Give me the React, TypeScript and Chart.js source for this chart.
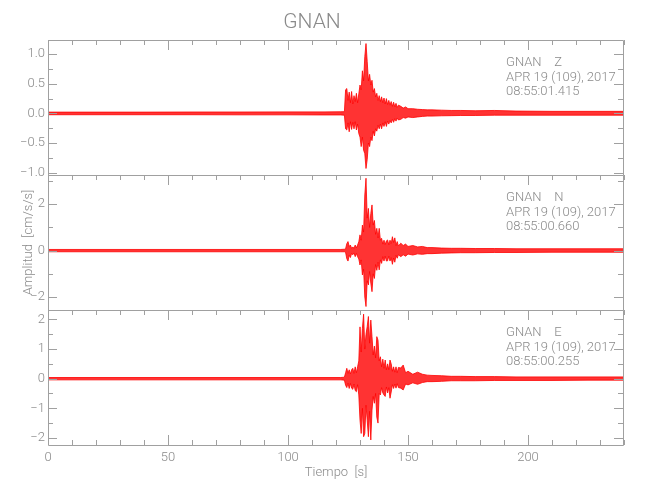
import React, { useEffect, useRef } from "react";
import { Chart, registerables } from "chart.js";

Chart.register(...registerables);

// ---- data (seconds, cm/s/s): envelope (max / min) of each trace ----
const time = [0, 20, 40, 60, 80, 100, 115, 122, 123.5,
  124, 124.5, 125, 125.5, 126, 126.5, 127, 127.5, 128, 128.5, 129, 129.5,
  130, 130.5, 131, 131.5, 132, 132.5, 133, 133.5, 134, 134.5, 135, 135.5,
  136, 136.5, 137, 137.5, 138, 138.5, 139, 139.5, 140, 140.5, 141, 141.5,
  142, 142.5, 143, 143.5, 144, 144.5, 145, 145.5, 146,
  147, 148, 149, 150, 152, 154, 156, 158, 160, 164, 168, 172, 178, 186, 195, 210, 225, 240];

const zHi = [0.022, 0.022, 0.022, 0.024, 0.024, 0.026, 0.026, 0.028, 0.03,
  0.40, 0.42, 0.22, 0.36, 0.18, 0.37, 0.16, 0.30, 0.20, 0.34, 0.18, 0.33,
  0.48, 0.40, 0.72, 0.55, 0.96, 1.18, 0.88, 0.55, 0.66, 0.48, 0.56, 0.36,
  0.42, 0.28, 0.34, 0.22, 0.30, 0.20, 0.28, 0.18, 0.26, 0.16, 0.25, 0.15,
  0.22, 0.14, 0.20, 0.12, 0.19, 0.11, 0.17, 0.10, 0.14,
  0.12, 0.09, 0.11, 0.08, 0.08, 0.07, 0.065, 0.06, 0.06, 0.055, 0.05, 0.05, 0.045, 0.05, 0.04, 0.035, 0.035, 0.035];
const zLo = [-0.022, -0.022, -0.022, -0.022, -0.024, -0.024, -0.026, -0.026, -0.03,
  -0.26, -0.28, -0.16, -0.31, -0.14, -0.27, -0.15, -0.26, -0.14, -0.28, -0.18, -0.34,
  -0.40, -0.56, -0.40, -0.62, -0.68, -0.93, -0.78, -0.50, -0.56, -0.40, -0.46, -0.30,
  -0.38, -0.26, -0.30, -0.20, -0.26, -0.18, -0.26, -0.16, -0.22, -0.14, -0.22, -0.13,
  -0.18, -0.12, -0.16, -0.10, -0.15, -0.09, -0.13, -0.08, -0.11,
  -0.10, -0.07, -0.08, -0.06, -0.07, -0.06, -0.05, -0.045, -0.045, -0.04, -0.038, -0.035, -0.035, -0.03, -0.03, -0.03, -0.03, -0.03];

const nHi = [0.05, 0.05, 0.05, 0.05, 0.05, 0.05, 0.05, 0.05, 0.06,
  0.08, 0.30, 0.39, 0.18, 0.24, 0.10, 0.16, 0.10, 0.24, 0.12, 0.24, 0.38,
  0.68, 0.45, 1.10, 0.80, 2.40, 3.12, 1.40, 1.82, 1.00, 1.60, 1.97, 1.10,
  1.30, 0.70, 0.96, 0.55, 0.96, 0.45, 0.53, 0.28, 0.45, 0.26, 0.42, 0.46,
  0.25, 0.45, 0.30, 0.60, 0.35, 0.55, 0.22, 0.39, 0.20,
  0.32, 0.22, 0.28, 0.18, 0.22, 0.16, 0.18, 0.13, 0.13, 0.11, 0.10, 0.10, 0.09, 0.09, 0.08, 0.08, 0.08, 0.08];
const nLo = [-0.05, -0.05, -0.05, -0.05, -0.05, -0.05, -0.05, -0.05, -0.05,
  -0.08, -0.35, -0.45, -0.20, -0.30, -0.12, -0.18, -0.10, -0.26, -0.12, -0.26, -0.36,
  -0.62, -0.40, -1.05, -0.80, -2.00, -2.41, -1.30, -1.48, -0.90, -1.40, -1.77, -1.00,
  -1.20, -0.60, -0.85, -0.50, -0.83, -0.40, -0.55, -0.26, -0.45, -0.24, -0.45, -0.44,
  -0.24, -0.45, -0.30, -0.59, -0.32, -0.50, -0.20, -0.33, -0.18,
  -0.26, -0.18, -0.24, -0.15, -0.19, -0.14, -0.16, -0.13, -0.13, -0.11, -0.10, -0.09, -0.09, -0.08, -0.08, -0.07, -0.07, -0.07];

const eHi = [0.04, 0.04, 0.04, 0.04, 0.04, 0.04, 0.04, 0.04, 0.05,
  0.20, 0.35, 0.18, 0.30, 0.16, 0.30, 0.35, 0.18, 0.40, 0.20, 0.40, 0.60,
  1.75, 0.90, 1.70, 2.18, 1.00, 1.50, 1.76, 2.10, 1.20, 1.98, 1.42, 0.80,
  1.10, 0.70, 1.42, 1.30, 0.60, 0.74, 0.40, 0.66, 0.35, 0.63, 0.30, 0.50,
  0.30, 0.63, 0.50, 0.25, 0.40, 0.22, 0.40, 0.20, 0.38,
  0.36, 0.46, 0.20, 0.25, 0.15, 0.22, 0.15, 0.12, 0.11, 0.10, 0.08, 0.08, 0.07, 0.07, 0.06, 0.06, 0.06, 0.06];
const eLo = [-0.04, -0.04, -0.04, -0.04, -0.04, -0.04, -0.04, -0.04, -0.05,
  -0.22, -0.30, -0.15, -0.33, -0.16, -0.32, -0.36, -0.18, -0.40, -0.44, -0.20, -0.55,
  -1.40, -1.85, -1.00, -1.96, -1.85, -0.90, -1.40, -1.96, -1.10, -2.07, -1.06, -0.60,
  -0.83, -0.50, -1.30, -1.50, -0.50, -0.55, -0.30, -0.48, -0.55, -0.60, -0.28, -0.48,
  -0.30, -0.66, -0.45, -0.20, -0.33, -0.18, -0.32, -0.17, -0.30,
  -0.32, -0.38, -0.18, -0.21, -0.14, -0.19, -0.13, -0.10, -0.10, -0.09, -0.07, -0.07, -0.07, -0.06, -0.06, -0.06, -0.05, -0.05];

// ---- axes / labels ----
const xTicks = [0, 50, 100, 150, 200];
const xRange = [0, 240];
const xMinorStep = 10;
const zTicks = [-1.0, -0.5, 0, 0.5, 1.0];
const nTicks = [-2, 0, 2];
const eTicks = [-2, -1, 0, 1, 2];
const zMinorStep = 0.25;
const nMinorStep = 1;
const eMinorStep = 0.5;
const zRange = [-1.04, 1.24];
const nRange = [-2.56, 3.26];
const eRange = [-2.24, 2.32];

const stationName = "GNAN";
const channels = ["Z", "N", "E"];
const dateLabel = "APR 19 (109), 2017";
const startTimes = ["08:55:01.415", "08:55:00.660", "08:55:00.255"];
const xTitle = "Tiempo  [s]";
const yTitle = "Amplitud  [cm/s/s]";

const AXIS = "#a0a0a0";
const TEXT = "#8a8a8a";
const FONT = "Roboto, 'DejaVu Sans', sans-serif";
const RED = "rgb(255,0,0)";
const RED_FILL = "rgba(255,0,0,0.8)";

const minus = (s: string) => s.replace("-", "\u2212");

export default function App() {
  const ref = useRef<HTMLCanvasElement>(null);

  useEffect(() => {
    const panels = [
      { id: "yZ", hi: zHi, lo: zLo, range: zRange, ticks: zTicks, minor: zMinorStep, fmt: (v: number) => minus(v.toFixed(1)) },
      { id: "yN", hi: nHi, lo: nLo, range: nRange, ticks: nTicks, minor: nMinorStep, fmt: (v: number) => minus(String(v)) },
      { id: "yE", hi: eHi, lo: eLo, range: eRange, ticks: eTicks, minor: eMinorStep, fmt: (v: number) => minus(String(v)) },
    ];

    const datasets: any[] = [];
    panels.forEach((p) => {
      datasets.push({
        data: time.map((t, i) => ({ x: t, y: p.hi[i] })),
        xAxisID: "x", yAxisID: p.id,
        borderColor: RED, borderWidth: 0.8, pointRadius: 0, fill: false, tension: 0,
      });
      datasets.push({
        data: time.map((t, i) => ({ x: t, y: p.lo[i] })),
        xAxisID: "x", yAxisID: p.id,
        borderColor: RED, borderWidth: 0.8, pointRadius: 0, fill: "-1", backgroundColor: RED_FILL, tension: 0,
      });
    });

    const tickFont = { family: FONT, size: 13, weight: "300" as any };

    const makeY = (p: any, withTitle: boolean) => ({
      type: "linear",
      position: "left",
      stack: "traces",
      stackWeight: 1,
      min: p.range[0],
      max: p.range[1],
      grid: { display: false, drawTicks: false },
      border: { display: false },
      afterBuildTicks: (s: any) => { s.ticks = p.ticks.map((v: number) => ({ value: v })); },
      afterFit: (s: any) => { s.width = 48; },
      ticks: { color: TEXT, font: tickFont, padding: 3, callback: (v: any) => p.fmt(Number(v)) },
      title: {
        display: withTitle, text: yTitle, color: TEXT,
        font: { family: FONT, size: 13, weight: "300" as any },
        padding: { top: 21, bottom: 0 },
      },
    });

    const framePlugin = {
      id: "frameTicks",
      afterDatasetsDraw(chart: any) {
        const ctx = chart.ctx;
        const xs = chart.scales.x;
        const L = xs.left, R = xs.right;
        ctx.save();
        ctx.strokeStyle = AXIS;
        ctx.lineWidth = 1;
        panels.forEach((p, k) => {
          const ys = chart.scales[p.id];
          const T = ys.top, B = ys.bottom;
          ctx.beginPath();
          ctx.rect(Math.round(L) + 0.5, Math.round(T) + 0.5, Math.round(R - L) - 1, Math.round(B - T));
          ctx.stroke();
          ctx.beginPath();
          const minStart = Math.ceil(p.range[0] / p.minor) * p.minor;
          for (let v = minStart; v <= p.range[1] + 1e-9; v += p.minor) {
            const isMajor = p.ticks.some((m: number) => Math.abs(m - v) < 1e-6);
            const len = isMajor ? 9 : 5;
            const y = Math.round(ys.getPixelForValue(v)) + 0.5;
            ctx.moveTo(Math.round(L), y); ctx.lineTo(Math.round(L) + len, y);
            ctx.moveTo(Math.round(R) - 1, y); ctx.lineTo(Math.round(R) - 1 - len, y);
          }
          for (let v = xRange[0]; v <= xRange[1] + 1e-9; v += xMinorStep) {
            const isMajor = xTicks.includes(v);
            const len = isMajor ? 10 : 5;
            const x = Math.round(xs.getPixelForValue(v)) + 0.5;
            ctx.moveTo(x, Math.round(T)); ctx.lineTo(x, Math.round(T) + len);
            if (k === panels.length - 1) {
              ctx.moveTo(x, Math.round(B)); ctx.lineTo(x, Math.round(B) - len);
            }
          }
          ctx.stroke();
        });
        ctx.fillStyle = TEXT;
        ctx.font = `300 13px ${FONT}`;
        ctx.textAlign = "left";
        ctx.textBaseline = "alphabetic";
        panels.forEach((p, k) => {
          const ys = chart.scales[p.id];
          const lines = [`${stationName}    ${channels[k]}`, dateLabel, startTimes[k]];
          lines.forEach((ln, j) => ctx.fillText(ln, L + 458, ys.top + 26 + j * 14.5));
        });
        ctx.restore();
      },
    };

    const chart = new Chart(ref.current as HTMLCanvasElement, {
      type: "line",
      data: { datasets },
      options: {
        animation: false,
        responsive: false,
        layout: { padding: { left: 0, right: 26, top: 0, bottom: 0 } },
        plugins: {
          legend: { display: false },
          tooltip: { enabled: false },
          title: {
            display: true, text: stationName, color: TEXT,
            font: { family: FONT, size: 21, weight: "300" as any },
            padding: { top: 10, bottom: 4.8 },
          },
        },
        scales: {
          x: {
            type: "linear",
            min: xRange[0], max: xRange[1],
            grid: { display: false, drawTicks: false },
            border: { display: false },
            afterBuildTicks: (s: any) => { s.ticks = xTicks.map((v) => ({ value: v })); },
            afterFit: (s: any) => { s.height = 55; },
            ticks: { color: TEXT, font: tickFont, padding: 5, maxRotation: 0, autoSkip: false },
            title: {
              display: true, text: xTitle, color: TEXT,
              font: { family: FONT, size: 13, weight: "300" as any },
              padding: { top: 0, bottom: 19 },
            },
          },
          yE: makeY(panels[2], false),
          yN: makeY(panels[1], true),
          yZ: makeY(panels[0], false),
        } as any,
      },
      plugins: [framePlugin],
    });
    return () => chart.destroy();
  }, []);

  return (
    <div style={{ position: "absolute", left: 0, top: 0, width: 650, height: 500, background: "#fff" }}>
      <canvas ref={ref} width={650} height={500} style={{ display: "block" }} />
    </div>
  );
}
